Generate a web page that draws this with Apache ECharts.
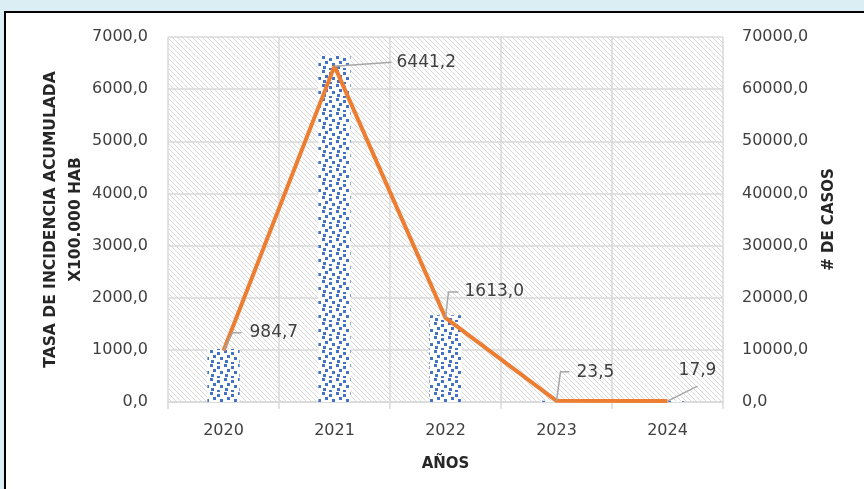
<!DOCTYPE html>
<html><head><meta charset="utf-8">
<script src="https://cdn.jsdelivr.net/npm/echarts@6/dist/echarts.min.js"></script>
<style>html,body{margin:0;padding:0;background:#dbeef4;}#c{width:864px;height:489px;}</style>
</head><body><div id="c"></div>
<script>
var years = ['2020','2021','2022','2023','2024'];
var tasa = [984.7, 6441.2, 1613.0, 23.5, 17.9];
var casos = [10150, 66350, 16620, 240, 185];
var leftTicks = [0,1000,2000,3000,4000,5000,6000,7000];
var rightTicks = [0,10000,20000,30000,40000,50000,60000,70000];
// leader-line shapes (relative to the data point) and label anchors
var leaderPaths = [
  [[0,0],[9,-18],[18,-18]],
  [[0,0],[57,-4]],
  [[0,0],[3,-26],[13,-26]],
  [[0,0],[4,-29],[13,-29]],
  [[0,0],[30,-15]]
];
var labelAnchors = [[26,-18,'left'],[62,-4,'left'],[19,-26,'left'],[20,-28,'left'],[30,-30,'center']];

function hatch(){
  var c=document.createElement('canvas');c.width=5;c.height=5;var g=c.getContext('2d');
  g.fillStyle='#ffffff';g.fillRect(0,0,5,5);
  g.strokeStyle='#d9d9d9';g.lineWidth=1;
  g.beginPath();g.moveTo(0,0);g.lineTo(5,5);g.moveTo(-2.5,2.5);g.lineTo(2.5,7.5);g.moveTo(2.5,-2.5);g.lineTo(7.5,2.5);g.stroke();
  return {image:c,repeat:'repeat'};
}
function dots(){
  var c=document.createElement('canvas');c.width=14;c.height=14;var g=c.getContext('2d');
  g.fillStyle='#ffffff';g.fillRect(0,0,14,14);
  g.fillStyle='#4472c4';
  var pts=[[0,0],[7,2],[3,5],[10,7],[1,10],[7,12]];
  pts.forEach(function(p){g.fillRect(p[0],p[1],3,3);});
  return {image:c,repeat:'repeat'};
}
var font='DejaVu Sans';
var chart=echarts.init(document.getElementById('c'));
chart.setOption({
  backgroundColor:'#dbeef4',
  animation:false,
  graphic:[{type:'rect',z:-10,shape:{x:5,y:12,width:900,height:520},style:{fill:'#ffffff',stroke:'#000000',lineWidth:2}}],
  grid:{left:168,right:141,top:37,bottom:87,show:true,backgroundColor:hatch(),borderWidth:0},
  xAxis:{type:'category',data:years,
    name:'AÑOS',nameLocation:'middle',nameGap:55,
    nameTextStyle:{fontFamily:font,fontWeight:'bold',fontSize:15,color:'#262626'},
    axisLine:{lineStyle:{color:'#d9d9d9',width:1.5}},
    axisTick:{show:true,length:7,lineStyle:{color:'#d9d9d9',width:1.5}},
    splitLine:{show:true,lineStyle:{color:'#d9d9d9',width:1.5}},
    axisLabel:{fontFamily:font,fontSize:16,color:'#404040',margin:21}},
  yAxis:[{type:'value',min:0,max:7000,interval:1000,
    name:'TASA DE INCIDENCIA ACUMULADA\nX100.000 HAB',nameLocation:'middle',nameGap:80,nameRotate:90,
    nameMoveOverlap:false,
    nameTextStyle:{fontFamily:font,fontWeight:'bold',fontSize:15.5,color:'#262626',lineHeight:25},
    axisLine:{show:false},axisTick:{show:false},
    splitLine:{lineStyle:{color:'#d9d9d9',width:1.5}},
    axisLabel:{fontFamily:font,fontSize:16,color:'#404040',margin:20,
      formatter:function(v){return leftTicks.indexOf(v)>=0?v.toFixed(1).replace('.',','):'';}}},
   {type:'value',min:0,max:70000,interval:10000,
    name:'# DE CASOS',nameLocation:'middle',nameGap:99,nameRotate:90,
    nameTextStyle:{fontFamily:font,fontWeight:'bold',fontSize:15,color:'#262626'},
    axisLine:{show:false},axisTick:{show:false},splitLine:{show:false},
    axisLabel:{fontFamily:font,fontSize:16,color:'#404040',margin:19,
      formatter:function(v){return rightTicks.indexOf(v)>=0?v.toFixed(1).replace('.',','):'';}}}],
  series:[
   {type:'bar',yAxisIndex:1,data:casos,barWidth:'29%',itemStyle:{color:dots()}},
   {type:'line',yAxisIndex:0,data:tasa,showSymbol:false,z:3,
    lineStyle:{color:'#ed7d31',width:4},itemStyle:{color:'#ed7d31'}},
   {type:'custom',yAxisIndex:0,z:4,
    data:tasa.map(function(v,i){return [i,v];}),
    renderItem:function(params,api){
      var i=params.dataIndex;
      var pt=api.coord([api.value(0),api.value(1)]);
      var path=leaderPaths[i].map(function(p){return [pt[0]+p[0],pt[1]+p[1]];});
      var a=labelAnchors[i];
      return {type:'group',children:[
        {type:'polyline',shape:{points:path},style:{stroke:'#a6a6a6',lineWidth:1.5,fill:null}},
        {type:'text',x:pt[0]+a[0],y:pt[1]+a[1],style:{text:api.value(1).toFixed(1).replace('.',','),
          fontFamily:font,fontSize:17,fill:'#404040',align:a[2],verticalAlign:'middle'}}
      ]};
    }}
  ]
});
</script></body></html>
